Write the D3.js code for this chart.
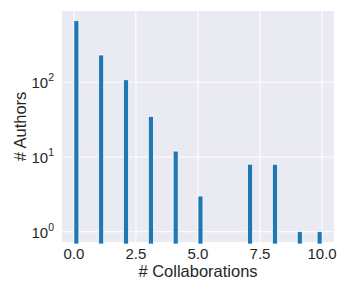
<!DOCTYPE html>
<html>
<head>
<meta charset="utf-8">
<script src="https://cdn.jsdelivr.net/npm/d3@7"></script>
<style>
  body { margin: 0; background: #fff; }
  text { font-family: "Liberation Sans", Arial, sans-serif; fill: #262626; }
</style>
</head>
<body>
<div id="wrapper"></div>
<script>
// 1. Data

const collaborations = [0, 1, 2, 3, 4, 5, 7, 8, 9, 10];
const authors = [668, 232, 108, 35, 12, 3, 8, 8, 1, 1];
const xTicks = [0, 2.5, 5, 7.5, 10];
const yTicks = [1, 10, 100];
const binWidth = 0.2;

// 2. Dimensions

const dimensions = {
  width: 337,
  height: 284,
  margin: { top: 11, right: 3, bottom: 42, left: 62 },
};
dimensions.boundedWidth = dimensions.width - dimensions.margin.left - dimensions.margin.right;
dimensions.boundedHeight = dimensions.height - dimensions.margin.top - dimensions.margin.bottom;

// 3. Canvas

const wrapper = d3.select("#wrapper")
  .append("svg")
  .attr("width", dimensions.width)
  .attr("height", dimensions.height);

const bounds = wrapper.append("g")
  .attr("transform", `translate(${dimensions.margin.left},${dimensions.margin.top})`);

bounds.append("rect")
  .attr("width", dimensions.boundedWidth)
  .attr("height", dimensions.boundedHeight)
  .attr("fill", "#eaeaf2");

// 4. Scales

const xScale = d3.scaleLinear()
  .domain([-0.48, 10.48])
  .range([0, dimensions.boundedWidth]);

const yScale = d3.scaleLog()
  .domain([0.728, 901])
  .range([dimensions.boundedHeight, 0]);

// 5. Grid

const grid = bounds.append("g");
xTicks.forEach(t => {
  grid.append("line")
    .attr("x1", xScale(t)).attr("x2", xScale(t))
    .attr("y1", 0).attr("y2", dimensions.boundedHeight)
    .attr("stroke", "#fff").attr("stroke-width", 1.1);
});
yTicks.forEach(t => {
  grid.append("line")
    .attr("x1", 0).attr("x2", dimensions.boundedWidth)
    .attr("y1", yScale(t)).attr("y2", yScale(t))
    .attr("stroke", "#fff").attr("stroke-width", 1.1);
});

// 6. Bars

const bars = collaborations.map((c, i) => ({
  x0: Math.min(c, 10 - binWidth),
  count: authors[i],
}));

bounds.append("g")
  .selectAll("rect")
  .data(bars)
  .join("rect")
  .attr("x", d => xScale(d.x0))
  .attr("width", d => xScale(d.x0 + binWidth) - xScale(d.x0))
  .attr("y", d => yScale(d.count))
  .attr("height", d => dimensions.boundedHeight + 2 - yScale(d.count))
  .attr("fill", "#1f77b4")
  .attr("stroke", "#fff")
  .attr("stroke-width", 0.7);

// 7. Axes labels

const xAxis = wrapper.append("g")
  .attr("transform", `translate(${dimensions.margin.left},${dimensions.margin.top + dimensions.boundedHeight})`);
xTicks.forEach(t => {
  xAxis.append("text")
    .attr("x", xScale(t))
    .attr("y", 17)
    .attr("text-anchor", "middle")
    .style("font-size", "15px")
    .text(d3.format(".1f")(t));
});

const yAxis = wrapper.append("g")
  .attr("transform", `translate(${dimensions.margin.left},${dimensions.margin.top})`);
yTicks.forEach(t => {
  const label = yAxis.append("text")
    .attr("x", -8)
    .attr("y", yScale(t) + 6)
    .attr("text-anchor", "end")
    .style("font-size", "15px");
  label.append("tspan").text("10");
  label.append("tspan")
    .attr("dy", -7)
    .style("font-size", "10.5px")
    .text(Math.round(Math.log10(t)));
});

wrapper.append("text")
  .attr("x", dimensions.margin.left + dimensions.boundedWidth / 2)
  .attr("y", 277)
  .attr("text-anchor", "middle")
  .style("font-size", "16.5px")
  .text("# Collaborations");

wrapper.append("text")
  .attr("transform", `translate(26,${dimensions.margin.top + dimensions.boundedHeight / 2}) rotate(-90)`)
  .attr("text-anchor", "middle")
  .style("font-size", "16.5px")
  .text("# Authors");
</script>
</body>
</html>
